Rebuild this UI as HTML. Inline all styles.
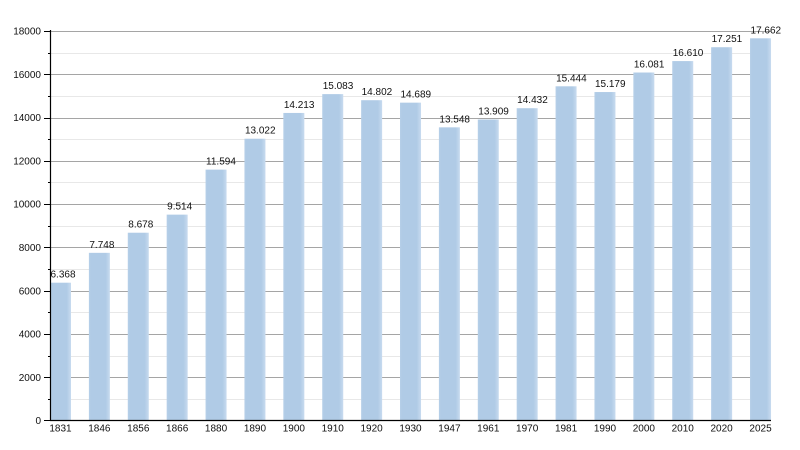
<!DOCTYPE html>
<html><head><meta charset="utf-8"><style>
html,body{margin:0;padding:0;background:#fff;}
svg{display:block;font-family:"Liberation Sans",Arial,sans-serif;}
</style></head><body>
<svg width="800" height="450" viewBox="0 0 800 450" xmlns="http://www.w3.org/2000/svg">
<defs>
<linearGradient id="g" x1="0" x2="1" y1="0" y2="0">
<stop offset="0" stop-color="#b6cfe8"/>
<stop offset="0.1" stop-color="#b0cbe6"/>
<stop offset="0.8" stop-color="#b0cbe6"/>
<stop offset="1" stop-color="#c8dbef"/>
</linearGradient>
</defs>
<g stroke-width="1">
<line x1="50" x2="771" y1="399.5" y2="399.5" stroke="#e8e8e8"/>
<line x1="50" x2="771" y1="377.5" y2="377.5" stroke="#a5a5a5"/>
<line x1="50" x2="771" y1="356.5" y2="356.5" stroke="#e8e8e8"/>
<line x1="50" x2="771" y1="334.5" y2="334.5" stroke="#a5a5a5"/>
<line x1="50" x2="771" y1="312.5" y2="312.5" stroke="#e8e8e8"/>
<line x1="50" x2="771" y1="291.5" y2="291.5" stroke="#a5a5a5"/>
<line x1="50" x2="771" y1="269.5" y2="269.5" stroke="#e8e8e8"/>
<line x1="50" x2="771" y1="247.5" y2="247.5" stroke="#a5a5a5"/>
<line x1="50" x2="771" y1="226.5" y2="226.5" stroke="#e8e8e8"/>
<line x1="50" x2="771" y1="204.5" y2="204.5" stroke="#a5a5a5"/>
<line x1="50" x2="771" y1="182.5" y2="182.5" stroke="#e8e8e8"/>
<line x1="50" x2="771" y1="161.5" y2="161.5" stroke="#a5a5a5"/>
<line x1="50" x2="771" y1="139.5" y2="139.5" stroke="#e8e8e8"/>
<line x1="50" x2="771" y1="118.5" y2="118.5" stroke="#a5a5a5"/>
<line x1="50" x2="771" y1="96.5" y2="96.5" stroke="#e8e8e8"/>
<line x1="50" x2="771" y1="74.5" y2="74.5" stroke="#a5a5a5"/>
<line x1="50" x2="771" y1="53.5" y2="53.5" stroke="#e8e8e8"/>
<line x1="50" x2="771" y1="31.5" y2="31.5" stroke="#a5a5a5"/>
</g>
<g fill="url(#g)">
<rect x="50" y="282.70" width="21" height="137.80"/>
<rect x="88.89" y="252.84" width="21" height="167.66"/>
<rect x="127.78" y="232.72" width="21" height="187.78"/>
<rect x="166.67" y="214.63" width="21" height="205.87"/>
<rect x="205.56" y="169.62" width="21" height="250.88"/>
<rect x="244.45" y="138.72" width="21" height="281.78"/>
<rect x="283.34" y="112.95" width="21" height="307.55"/>
<rect x="322.23" y="94.12" width="21" height="326.38"/>
<rect x="361.12" y="100.20" width="21" height="320.30"/>
<rect x="400.01" y="102.65" width="21" height="317.85"/>
<rect x="438.9" y="127.34" width="21" height="293.16"/>
<rect x="477.79" y="119.52" width="21" height="300.98"/>
<rect x="516.68" y="108.21" width="21" height="312.29"/>
<rect x="555.57" y="86.31" width="21" height="334.19"/>
<rect x="594.46" y="92.04" width="21" height="328.46"/>
<rect x="633.35" y="72.52" width="21" height="347.98"/>
<rect x="672.24" y="61.08" width="21" height="359.42"/>
<rect x="711.13" y="47.21" width="21" height="373.29"/>
<rect x="750.02" y="38.31" width="21" height="382.19"/>
</g>
<g stroke="#000" stroke-width="1">
<line x1="48" x2="50" y1="399.5" y2="399.5"/>
<line x1="44" x2="50" y1="377.5" y2="377.5"/>
<line x1="48" x2="50" y1="356.5" y2="356.5"/>
<line x1="44" x2="50" y1="334.5" y2="334.5"/>
<line x1="48" x2="50" y1="312.5" y2="312.5"/>
<line x1="44" x2="50" y1="291.5" y2="291.5"/>
<line x1="48" x2="50" y1="269.5" y2="269.5"/>
<line x1="44" x2="50" y1="247.5" y2="247.5"/>
<line x1="48" x2="50" y1="226.5" y2="226.5"/>
<line x1="44" x2="50" y1="204.5" y2="204.5"/>
<line x1="48" x2="50" y1="182.5" y2="182.5"/>
<line x1="44" x2="50" y1="161.5" y2="161.5"/>
<line x1="48" x2="50" y1="139.5" y2="139.5"/>
<line x1="44" x2="50" y1="118.5" y2="118.5"/>
<line x1="48" x2="50" y1="96.5" y2="96.5"/>
<line x1="44" x2="50" y1="74.5" y2="74.5"/>
<line x1="48" x2="50" y1="53.5" y2="53.5"/>
<line x1="44" x2="50" y1="31.5" y2="31.5"/>
<line x1="44" x2="50" y1="420.5" y2="420.5"/>
</g>
<g font-size="10" text-anchor="end" fill="#111">
<text x="41" y="424.1">0</text>
<text x="41" y="380.8">2000</text>
<text x="41" y="337.5">4000</text>
<text x="41" y="294.3">6000</text>
<text x="41" y="251.0">8000</text>
<text x="41" y="207.7">10000</text>
<text x="41" y="164.4">12000</text>
<text x="41" y="121.2">14000</text>
<text x="41" y="77.9">16000</text>
<text x="41" y="34.6">18000</text>
</g>
<g font-size="10" fill="#111">
<text x="50.5" y="277.7">6.368</text>
<text x="89.39" y="247.84">7.748</text>
<text x="128.28" y="227.72">8.678</text>
<text x="167.17" y="209.63">9.514</text>
<text x="206.06" y="164.62">11.594</text>
<text x="244.95" y="133.72">13.022</text>
<text x="283.84" y="107.95">14.213</text>
<text x="322.73" y="89.12">15.083</text>
<text x="361.62" y="95.20">14.802</text>
<text x="400.51" y="97.65">14.689</text>
<text x="439.4" y="122.34">13.548</text>
<text x="478.29" y="114.52">13.909</text>
<text x="517.18" y="103.21">14.432</text>
<text x="556.07" y="81.31">15.444</text>
<text x="594.96" y="87.04">15.179</text>
<text x="633.85" y="67.52">16.081</text>
<text x="672.74" y="56.08">16.610</text>
<text x="711.63" y="42.21">17.251</text>
<text x="750.52" y="33.31">17.662</text>
</g>
<g font-size="10" text-anchor="middle" fill="#111">
<text x="60.5" y="431.5">1831</text>
<text x="99.39" y="431.5">1846</text>
<text x="138.28" y="431.5">1856</text>
<text x="177.17" y="431.5">1866</text>
<text x="216.06" y="431.5">1880</text>
<text x="254.95" y="431.5">1890</text>
<text x="293.84" y="431.5">1900</text>
<text x="332.73" y="431.5">1910</text>
<text x="371.62" y="431.5">1920</text>
<text x="410.51" y="431.5">1930</text>
<text x="449.4" y="431.5">1947</text>
<text x="488.29" y="431.5">1961</text>
<text x="527.18" y="431.5">1970</text>
<text x="566.07" y="431.5">1981</text>
<text x="604.96" y="431.5">1990</text>
<text x="643.85" y="431.5">2000</text>
<text x="682.74" y="431.5">2010</text>
<text x="721.63" y="431.5">2020</text>
<text x="760.52" y="431.5">2025</text>
</g>
<line x1="50.5" x2="50.5" y1="30" y2="421" stroke="#000" stroke-width="1.2"/>
<line x1="50" x2="771" y1="420.5" y2="420.5" stroke="#000" stroke-width="1.2"/>
</svg>
</body></html>
